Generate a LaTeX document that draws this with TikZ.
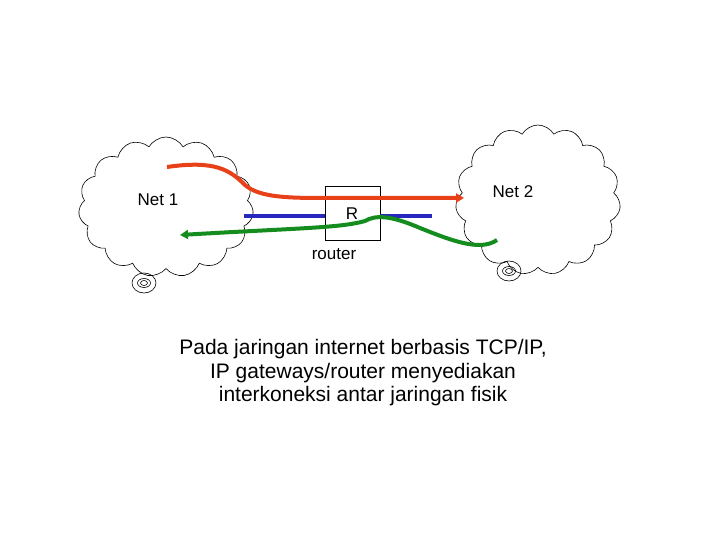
\documentclass[tikz,border=0pt]{standalone}
\usepackage{fontspec}
\setmainfont{Liberation Sans}
\usetikzlibrary{shapes.symbols,arrows.meta}
\definecolor{redline}{RGB}{232,64,24}
\definecolor{blueline}{RGB}{40,40,190}
\definecolor{greenline}{RGB}{20,140,30}
\begin{document}
\begin{tikzpicture}[x=1pt,y=-1pt,
  cloudnet/.style={cloud,cloud puffs=15,cloud puff arc=120,draw=black,line width=0.6pt,fill=white,inner sep=0pt},
  thick line/.style={line width=4pt},
  lbl/.style={font=\fontsize{17}{19}\selectfont}]
\useasboundingbox (0,0) rectangle (720,540);
\node[cloudnet,minimum width=175pt,minimum height=140pt] (c1) at (166,207) {};
\node[cloudnet,minimum width=165pt,minimum height=150pt] (c2) at (538,200) {};
\draw[line width=0.6pt] (144,283) ellipse (12 and 10) (144,283) ellipse (6.5 and 4.5) (144,283) ellipse (3.5 and 2.5);
\draw[line width=0.6pt] (509,271) ellipse (12 and 10) (509,271) ellipse (6.5 and 4.5) (509,271) ellipse (3.5 and 2.5);
\node[lbl] (n1) at (158,200) {Net 1};
\node[lbl] (n2) at (513,192) {Net 2};
\node[draw,line width=0.6pt,minimum width=55pt,minimum height=54pt,fill=white] (r) at (352.5,213) {};
\node[lbl] (rl) at (352,214) {R};
\node[lbl] (rt) at (334,254) {router};
\coordinate (bl) at (244,216); \coordinate (br) at (432,216);
\draw[thick line,blueline] (bl) -- (r.west|-bl);
\draw[thick line,blueline] (r.east|-br) -- (br);
\coordinate (rs) at (167,167); \coordinate (re) at (464,198);
\draw[thick line,redline,-{Triangle[length=8pt,width=9pt]}] (rs) .. controls (215,160) and (230,170) .. (245,185) .. controls (260,198) and (290,198) .. (330,198) -- (re);
\coordinate (gs) at (497,240); \coordinate (ge) at (180,235);
\draw[thick line,greenline,-{Triangle[length=8pt,width=9pt]}] (gs) .. controls (480,252) and (450,240) .. (420,228) .. controls (390,215) and (375,215) .. (365,221) .. controls (340,228) and (300,228) .. (ge);
\node[align=center,font=\fontsize{21}{23.5}\selectfont] (t) at (363,373) {Pada jaringan internet berbasis TCP/IP,\\IP gateways/router menyediakan\\interkoneksi antar jaringan fisik};
\end{tikzpicture}
\end{document}
